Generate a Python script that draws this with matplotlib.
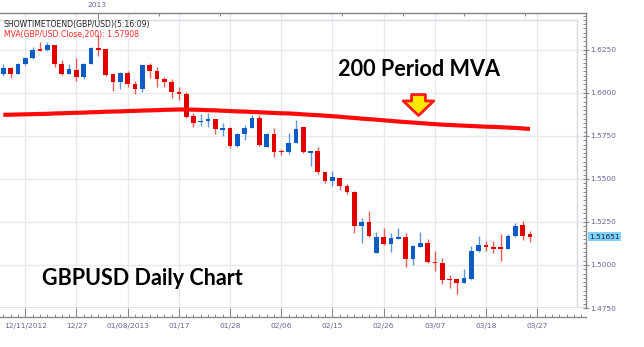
import numpy as np
import matplotlib.pyplot as plt
from matplotlib.ticker import MultipleLocator, FixedLocator, FormatStrFormatter

# GBP/USD daily candles, 12/2012 - 03/2013
opens = [1.6112, 1.6147, 1.6112, 1.6169, 1.6202, 1.6252, 1.6248, 1.6279, 1.6169, 1.6112,
         1.6136, 1.6093, 1.6170, 1.6263, 1.6254, 1.6109, 1.6066, 1.6118, 1.6051, 1.6022,
         1.6163, 1.6130, 1.6080, 1.6062, 1.6008, 1.5992, 1.5866, 1.5830, 1.5835, 1.5847,
         1.5787, 1.5798, 1.5692, 1.5762, 1.5798, 1.5856, 1.5688, 1.5762, 1.5663, 1.5657,
         1.5711, 1.5801, 1.5655, 1.5661, 1.5541, 1.5490, 1.5504, 1.5461, 1.5426, 1.5229,
         1.5252, 1.5072, 1.5161, 1.5122, 1.5151, 1.5161, 1.5037, 1.5106, 1.5126, 1.5019,
         1.5010, 1.4919, 1.4917, 1.4897, 1.4917, 1.5081, 1.5115, 1.5106, 1.5101, 1.5095,
         1.5169, 1.5231, 1.5178]
highs = [1.6167, 1.6149, 1.6173, 1.6211, 1.6266, 1.6295, 1.6295, 1.6280, 1.6192, 1.6167,
         1.6202, 1.6172, 1.6269, 1.6337, 1.6256, 1.6111, 1.6120, 1.6128, 1.6070, 1.6165,
         1.6174, 1.6153, 1.6095, 1.6080, 1.6037, 1.6004, 1.5885, 1.5878, 1.5885, 1.5849,
         1.5824, 1.5800, 1.5769, 1.5814, 1.5872, 1.5872, 1.5769, 1.5798, 1.5673, 1.5769,
         1.5843, 1.5803, 1.5663, 1.5684, 1.5543, 1.5547, 1.5506, 1.5469, 1.5428, 1.5272,
         1.5316, 1.5194, 1.5217, 1.5184, 1.5217, 1.5184, 1.5115, 1.5194, 1.5149, 1.5081,
         1.5042, 1.4942, 1.4919, 1.4975, 1.5110, 1.5169, 1.5140, 1.5140, 1.5180, 1.5180,
         1.5246, 1.5258, 1.5199]
lows = [1.6097, 1.6089, 1.6109, 1.6163, 1.6198, 1.6245, 1.6244, 1.6153, 1.6105, 1.6110,
        1.6070, 1.6080, 1.6167, 1.6215, 1.6099, 1.6012, 1.6023, 1.6037, 1.5992, 1.6008,
        1.6089, 1.6037, 1.6037, 1.5973, 1.5959, 1.5853, 1.5804, 1.5808, 1.5801, 1.5760,
        1.5750, 1.5678, 1.5688, 1.5727, 1.5795, 1.5692, 1.5684, 1.5630, 1.5640, 1.5645,
        1.5708, 1.5653, 1.5576, 1.5529, 1.5475, 1.5459, 1.5436, 1.5413, 1.5188, 1.5130,
        1.5161, 1.5068, 1.5116, 1.5077, 1.5149, 1.4987, 1.5000, 1.5103, 1.5013, 1.4967,
        1.4888, 1.4868, 1.4831, 1.4894, 1.4913, 1.5076, 1.5083, 1.5072, 1.5025, 1.5092,
        1.5165, 1.5145, 1.5136]
closes = [1.6147, 1.6112, 1.6169, 1.6205, 1.6250, 1.6246, 1.6279, 1.6170, 1.6112, 1.6138,
          1.6095, 1.6170, 1.6263, 1.6250, 1.6105, 1.6066, 1.6118, 1.6051, 1.6022, 1.6163,
          1.6128, 1.6080, 1.6062, 1.6008, 1.5994, 1.5862, 1.5827, 1.5839, 1.5847, 1.5789,
          1.5798, 1.5692, 1.5762, 1.5798, 1.5856, 1.5698, 1.5762, 1.5657, 1.5655, 1.5711,
          1.5791, 1.5657, 1.5661, 1.5541, 1.5490, 1.5513, 1.5461, 1.5423, 1.5229, 1.5252,
          1.5170, 1.5161, 1.5122, 1.5155, 1.5161, 1.5037, 1.5111, 1.5126, 1.5016, 1.5010,
          1.4913, 1.4911, 1.4897, 1.4923, 1.5081, 1.5115, 1.5103, 1.5095, 1.5095, 1.5169,
          1.5227, 1.5170, 1.51651]

# 200 day moving average of the close
mva = [1.5873, 1.5874, 1.5875, 1.5876, 1.5877, 1.5878, 1.5879, 1.5881, 1.5882, 1.5884,
       1.5885, 1.5886, 1.5888, 1.5889, 1.5891, 1.5892, 1.5893, 1.5895, 1.5896, 1.5898,
       1.5899, 1.5900, 1.5902, 1.5903, 1.5904, 1.5904, 1.5903, 1.5902, 1.5900, 1.5899,
       1.5897, 1.5895, 1.5893, 1.5892, 1.5890, 1.5888, 1.5886, 1.5884, 1.5882, 1.5881,
       1.5879, 1.5876, 1.5873, 1.5871, 1.5868, 1.5865, 1.5862, 1.5858, 1.5855, 1.5851,
       1.5848, 1.5845, 1.5841, 1.5838, 1.5834, 1.5831, 1.5828, 1.5825, 1.5822, 1.5819,
       1.5816, 1.5814, 1.5812, 1.5810, 1.5808, 1.5806, 1.5804, 1.5803, 1.5801, 1.5799,
       1.5797, 1.5794, 1.57908]

date_labels = ['12/11/2012', '12/27', '01/08/2013', '01/17', '01/28', '02/06',
               '02/15', '02/26', '03/07', '03/18', '03/27']
price_ticks = [1.4750, 1.5000, 1.5250, 1.5500, 1.5750, 1.6000, 1.6250]

o = np.array(opens)
h = np.array(highs)
l = np.array(lows)
c = np.array(closes)
x = np.arange(len(c))

BLUE, RED = '#0b5cc4', '#e00000'
BLUE_W, RED_W = '#5d98df', '#ef5a5a'
AXC = '#888888'
LABC = '#66669a'

fig = plt.figure(figsize=(6.44, 3.47), dpi=100)
ax = fig.add_axes([0, 39 / 347, 586 / 644, 295 / 347])

up = c >= o
body_c = np.where(up, BLUE, RED)
wick_c = np.where(up, BLUE_W, RED_W)
mid = (o + c) / 2
body_h = np.abs(c - o)
body_lo = np.minimum(o, c)
thin = body_h < 0.0008
body_lo = np.where(thin, mid - 0.0004, body_lo)
body_h = np.where(thin, 0.0008, body_h)

ax.vlines(x, l, h, colors=wick_c, lw=1.0, zorder=2)
ax.bar(x, body_h, bottom=body_lo, width=0.64, color=body_c, linewidth=0, zorder=3)
ax.plot(x, mva, color='#ff0a0a', lw=3.0, solid_capstyle='butt', zorder=4)

ax.set_xlim(-0.451, 79.66)
ax.set_ylim(1.4750, 1.64651)

# date axis
ax.xaxis.set_major_locator(FixedLocator(np.arange(3, 74, 7)))
ax.set_xticklabels(date_labels)
ax.xaxis.set_minor_locator(MultipleLocator(1))
ax.spines['bottom'].set_position(('outward', 6.5))
ax.tick_params(axis='x', which='major', direction='in', length=6.5, width=0.8,
               color=AXC, labelsize=5.4, labelcolor=LABC, pad=4.5)
ax.tick_params(axis='x', which='minor', direction='in', length=2.2, width=0.7, color=AXC)
ax.axhline(1.4750, color=AXC, lw=1.0, zorder=1)

# price axis on the right
ax.yaxis.tick_right()
ax.yaxis.set_major_locator(FixedLocator(price_ticks))
ax.yaxis.set_major_formatter(FormatStrFormatter('%.4f'))
ax.yaxis.set_minor_locator(MultipleLocator(0.0025))
ax.tick_params(axis='y', which='major', direction='inout', length=5, width=0.8,
               color=AXC, labelsize=5.4, labelcolor=LABC, pad=0.5)
ax.tick_params(axis='y', which='minor', direction='in', length=2.4, width=0.7, color=AXC)

ax.grid(which='major', color='#e9e9e9', lw=1.0, zorder=0)
ax.set_axisbelow(True)

ax.spines['left'].set_visible(False)
for s in ('top', 'right', 'bottom'):
    ax.spines[s].set_color(AXC)
    ax.spines[s].set_linewidth(1.0)

# inner frame of the price pane
fy = 288 / 295
fx = 577 / 586
ax.plot([0, fx], [fy, fy], transform=ax.transAxes, color='#d6dbe6', lw=1.0, zorder=1)
ax.plot([fx, fx], [0, fy], transform=ax.transAxes, color='#d6dbe6', lw=1.0, zorder=1)

# year strip on top
top = ax.secondary_xaxis('top')
top.xaxis.set_major_locator(FixedLocator([13]))
top.xaxis.set_minor_locator(FixedLocator([21.33, 29.67, 38, 46.33, 54.67, 63, 71.33]))
top.tick_params(which='major', direction='in', length=4.5, width=0.8, color=AXC,
                labeltop=False)
top.tick_params(which='minor', direction='in', length=2, width=0.8, color=AXC)
top.spines['top'].set_color(AXC)
fig.text(97 / 644, 1 - 5 / 347, '2013', ha='center', va='center', fontsize=5.4, color=LABC)

# last price tag
ax.annotate(f'{closes[-1]:.5f}', xy=(1, closes[-1]), xycoords=('axes fraction', 'data'),
            xytext=(2.5, 0), textcoords='offset points', ha='left', va='center',
            fontsize=5.4, color='#1a1a40',
            bbox=dict(boxstyle='square,pad=0.15', fc='#7fd3f7', ec='none'))

# indicator captions
fig.text(4 / 644, 1 - 25 / 347, 'SHOWTIMETOEND(GBP/USD)(5:16:09)', ha='left', va='center',
         fontsize=5.55, color='#222222')
fig.text(4 / 644, 1 - 34 / 347, f'MVA(GBP/USD.Close,200): {mva[-1]:.5f}', ha='left',
         va='center', fontsize=5.55, color='#ff2a2a')

fig.text(338 / 644, 1 - 76 / 347, '200 Period MVA', ha='left', va='baseline',
         fontfamily='Lato', fontweight='bold', fontsize=15.6, color='black')
fig.text(42 / 644, 1 - 285 / 347, 'GBPUSD Daily Chart', ha='left', va='baseline',
         fontfamily='Lato', fontweight='bold', fontsize=15.5, color='black')

# arrow pointing at the moving average
ax.annotate('', xy=(56.76, 1.5869), xytext=(56.76, 1.5991),
            arrowprops=dict(arrowstyle='simple,head_length=1.05,head_width=2.2,tail_width=1.0',
                            mutation_scale=10, fc='#ffe600', ec='#ff1a1a', lw=2,
                            shrinkA=0, shrinkB=0), zorder=6)

fig.savefig('out.png', dpi=100)
